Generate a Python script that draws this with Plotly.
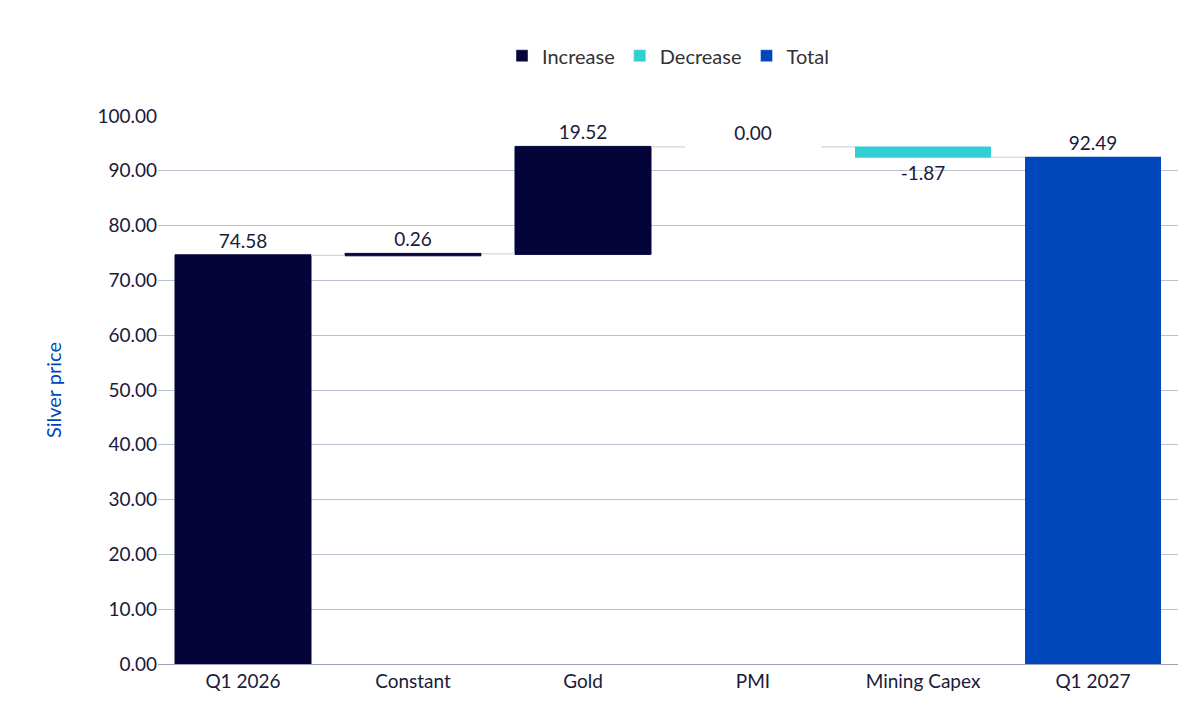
import plotly.graph_objects as go

categories = ["Q1 2026", "Constant", "Gold", "PMI", "Mining Capex", "Q1 2027"]
values = [74.58, 0.26, 19.52, 0.00, -1.87, 92.49]
measures = ["relative", "relative", "relative", "relative", "relative", "total"]
labels = ["74.58", "0.26", "19.52", "0.00", "-1.87", "92.49"]

inc_col = "#04043a"
dec_col = "#2fcfd3"
tot_col = "#0047bb"

fig = go.Figure()
fig.add_trace(go.Waterfall(
    x=categories, y=values, measure=measures,
    text=labels, textposition="outside",
    textfont=dict(size=19, color="#1a1a3a"),
    increasing=dict(marker=dict(color=inc_col, line=dict(color=inc_col, width=1))),
    decreasing=dict(marker=dict(color=dec_col)),
    totals=dict(marker=dict(color=tot_col)),
    connector=dict(line=dict(color="#c8ccd4", width=1)),
    showlegend=False, cliponaxis=False,
))
for name, col in [("Increase", inc_col), ("Decrease", dec_col), ("Total", tot_col)]:
    fig.add_trace(go.Bar(x=[None], y=[None], name=name, marker_color=col))

fig.update_layout(
    width=1200, height=722,
    paper_bgcolor="white", plot_bgcolor="white",
    font=dict(family="Lato, Noto Sans", size=19, color="#1a1a3a"),
    margin=dict(l=150, r=30, t=108, b=66, autoexpand=False),
    bargap=0.33,
    legend=dict(orientation="h", x=0.5, xanchor="center", y=1.11, yanchor="middle",
                font=dict(size=20, color="#333")),
    yaxis=dict(range=[0, 100], dtick=10, tickformat=".2f",
               gridcolor="#b8c2d0", showline=False, zeroline=False,
               title=dict(text="Silver price", font=dict(color="#0047bb", size=20), standoff=30),
               ticks=""),
    xaxis=dict(showline=True, linecolor="#9aa4b4", ticks=""),
)
fig.write_html("out.html")
